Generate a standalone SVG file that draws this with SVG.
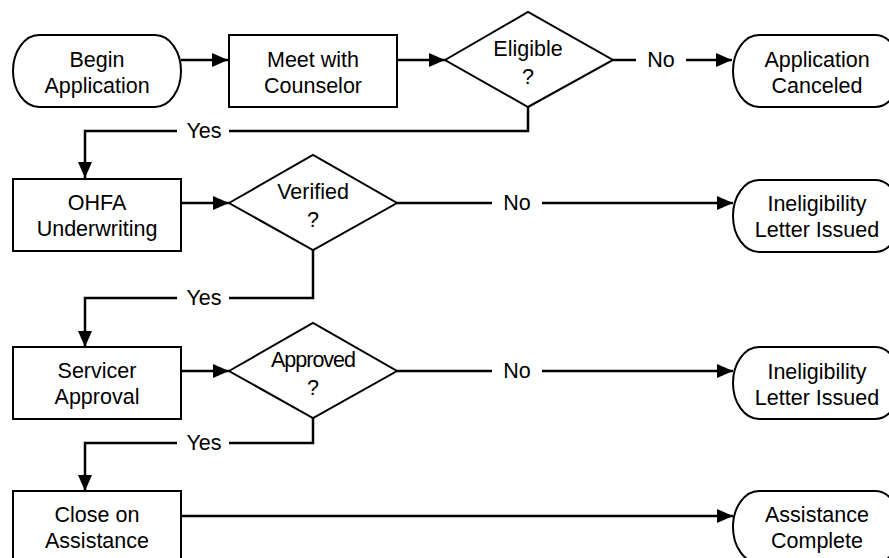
<svg xmlns="http://www.w3.org/2000/svg" width="889" height="558" viewBox="0 0 889 558">
<style>
.shape{fill:#fff;stroke:#000;stroke-width:2}
.t{font-family:"Liberation Sans",Arial,sans-serif;font-size:21.5px;fill:#000;text-anchor:middle;dominant-baseline:central}
.c{fill:none;stroke:#000;stroke-width:2.5}
</style>
<defs>
<marker id="ah" markerWidth="16" markerHeight="14" refX="16" refY="7" orient="auto" markerUnits="userSpaceOnUse">
<path d="M0,0 L16,7 L0,14 Z" fill="#000"/>
</marker>
</defs>
<rect width="889" height="558" fill="#fff"/>
<g id="connectors">
<path class="c" d="M181,60 H228" marker-end="url(#ah)"/>
<path class="c" d="M397,60 H445" marker-end="url(#ah)"/>
<path class="c" d="M613,60 H636"/>
<path class="c" d="M686,60 H732" marker-end="url(#ah)"/>
<text class="t" x="661" y="60">No</text>
<path class="c" d="M528,107 V131 H229"/>
<path class="c" d="M177,131 H85 V178" marker-end="url(#ah)"/>
<text class="t" x="204" y="131">Yes</text>
<path class="c" d="M181,203 H229" marker-end="url(#ah)"/>
<path class="c" d="M397,203 H492"/>
<path class="c" d="M542,203 H733" marker-end="url(#ah)"/>
<text class="t" x="517" y="203">No</text>
<path class="c" d="M313,250 V298 H229"/>
<path class="c" d="M177,298 H85 V347" marker-end="url(#ah)"/>
<text class="t" x="204" y="298">Yes</text>
<path class="c" d="M181,371 H229" marker-end="url(#ah)"/>
<path class="c" d="M397,371 H492"/>
<path class="c" d="M542,371 H733" marker-end="url(#ah)"/>
<text class="t" x="517" y="371">No</text>
<path class="c" d="M313,418 V443 H229"/>
<path class="c" d="M177,443 H85 V491" marker-end="url(#ah)"/>
<text class="t" x="204" y="443">Yes</text>
<path class="c" d="M181,516 H733" marker-end="url(#ah)"/>
</g>
<g id="begin">
<rect class="shape" x="13" y="35" width="168" height="72" rx="26" ry="36"/>
<text class="t" x="97" y="60">Begin</text>
<text class="t" x="97" y="86">Application</text>
</g>
<g id="meet">
<rect class="shape" x="229" y="35" width="168" height="72"/>
<text class="t" x="313" y="60">Meet with</text>
<text class="t" x="313" y="86">Counselor</text>
</g>
<g id="eligible">
<polygon class="shape" points="445,60 528,12 613,60 528,107"/>
<text class="t" x="528" y="49">Eligible</text>
<text class="t" x="528" y="77">?</text>
</g>
<g id="canceled">
<rect class="shape" x="733" y="35" width="168" height="72" rx="26" ry="36"/>
<text class="t" x="817" y="60">Application</text>
<text class="t" x="817" y="86">Canceled</text>
</g>
<g id="ohfa">
<rect class="shape" x="13" y="179" width="168" height="72"/>
<text class="t" x="97" y="203">OHFA</text>
<text class="t" x="97" y="229">Underwriting</text>
</g>
<g id="verified">
<polygon class="shape" points="229,203 313,155 397,203 313,250"/>
<text class="t" x="313" y="192">Verified</text>
<text class="t" x="313" y="220">?</text>
</g>
<g id="inelig1">
<rect class="shape" x="733" y="180" width="168" height="72" rx="26" ry="36"/>
<text class="t" x="817" y="204">Ineligibility</text>
<text class="t" x="817" y="230">Letter Issued</text>
</g>
<g id="servicer">
<rect class="shape" x="13" y="347" width="168" height="72"/>
<text class="t" x="97" y="371">Servicer</text>
<text class="t" x="97" y="397">Approval</text>
</g>
<g id="approved">
<polygon class="shape" points="229,371 313,323 397,371 313,418"/>
<text class="t" x="313" y="360" style="letter-spacing:-1px">Approved</text>
<text class="t" x="313" y="388">?</text>
</g>
<g id="inelig2">
<rect class="shape" x="733" y="347" width="168" height="72" rx="26" ry="36"/>
<text class="t" x="817" y="372">Ineligibility</text>
<text class="t" x="817" y="398">Letter Issued</text>
</g>
<g id="close">
<rect class="shape" x="13" y="491" width="168" height="72"/>
<text class="t" x="97" y="515">Close on</text>
<text class="t" x="97" y="541">Assistance</text>
</g>
<g id="complete">
<rect class="shape" x="733" y="491" width="168" height="72" rx="26" ry="36"/>
<text class="t" x="817" y="515">Assistance</text>
<text class="t" x="817" y="541">Complete</text>
</g>
</svg>
